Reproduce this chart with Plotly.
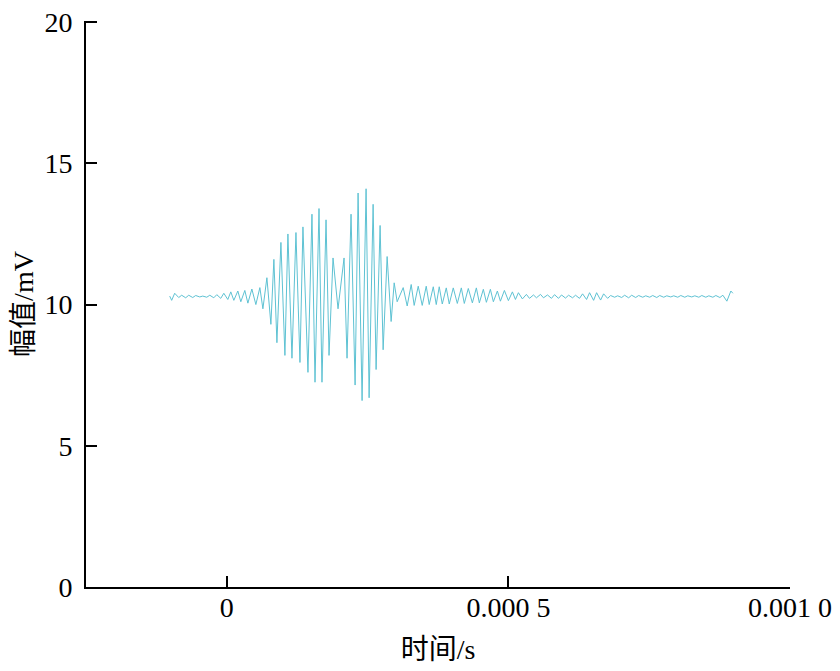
import numpy as np
import plotly.graph_objects as go

# Waveform.
# time in microseconds, amplitude in mV
T_US = [
    -101.4, -97.9, -92.5, -85.4, -80.1, -73.0, -67.6, -60.5, -55.2, -48.0,
    -42.7, -35.6, -30.2, -23.1, -17.8, -10.7, -5.3, 1.8, 7.1, 12.5,
    19.6, 24.9, 32.0, 37.4, 44.5, 51.6,
    # burst
    58.7, 64.1, 71.2, 78.3, 83.6, 89.0, 96.1, 103.2, 108.5, 115.7,
    122.8, 129.9, 135.2, 144.1, 151.2, 156.6, 163.7, 169.0, 176.2, 181.5,
    188.6, 197.5, 208.2, 213.5, 220.6, 227.8, 233.1, 240.2, 247.3, 252.7,
    259.8, 265.1, 272.2, 277.6, 284.7, 291.8, 297.2, 302.5,
    # decay
    313.2, 320.3, 327.4, 332.7, 339.9, 347.0, 354.1, 359.4, 366.6, 371.9,
    377.2, 382.6, 389.7, 395.0, 402.1, 409.3, 416.4, 421.7, 428.8, 436.0,
    443.1, 448.4, 455.5, 460.9, 468.0, 473.3, 480.4, 485.8, 492.9, 500.0,
    507.1, 512.5, 517.8, 524.9, 532.0, 537.4, 544.5, 549.8, 557.0, 562.3,
    569.4,
    # tail
    576.5, 581.9, 589.0, 594.3, 601.4, 606.8, 613.9, 619.2, 626.3, 631.7,
    638.8, 644.1, 651.3, 656.6, 663.7, 669.1, 676.2, 681.5, 688.6, 694.0,
    701.1, 706.4, 713.5, 718.9, 726.0, 731.3, 738.5, 743.8, 750.9, 756.2,
    763.4, 768.7, 775.8, 781.2, 788.3, 793.6, 800.7, 806.1, 813.2, 818.5,
    825.6, 831.0, 838.1, 843.4, 850.5, 855.9, 863.0, 868.3, 875.5, 880.8,
    887.9, 895.0, 898.6,
]

AMP_MV = [
    10.30, 10.15, 10.40, 10.25, 10.33, 10.24, 10.33, 10.25, 10.32, 10.27,
    10.30, 10.26, 10.33, 10.24, 10.35, 10.22, 10.40, 10.18, 10.45, 10.15,
    10.48, 10.10, 10.50, 10.05, 10.55, 10.00,
    # burst
    10.60, 9.85, 10.95, 9.30, 11.60, 8.65, 12.20, 8.20, 12.50, 8.10,
    12.55, 7.95, 12.75, 7.60, 13.20, 7.25, 13.40, 7.25, 13.00, 8.20,
    11.65, 9.85, 11.65, 8.10, 13.20, 7.15, 13.95, 6.60, 14.10, 6.70,
    13.55, 7.70, 12.80, 8.40, 11.70, 9.40, 10.77, 10.10,
    # decay
    10.60, 9.95, 10.71, 9.97, 10.65, 9.97, 10.65, 10.00, 10.63, 10.00,
    10.63, 10.02, 10.59, 10.02, 10.59, 10.04, 10.59, 10.04, 10.57, 10.06,
    10.59, 10.06, 10.54, 10.08, 10.54, 10.10, 10.48, 10.12, 10.50, 10.14,
    10.45, 10.18, 10.42, 10.20, 10.36, 10.22, 10.34, 10.24, 10.36, 10.24,
    10.34,
    # tail
    10.22, 10.35, 10.22, 10.34, 10.23, 10.33, 10.24, 10.33, 10.22, 10.38,
    10.18, 10.42, 10.15, 10.42, 10.16, 10.38, 10.22, 10.32, 10.26, 10.31,
    10.25, 10.33, 10.24, 10.33, 10.25, 10.32, 10.26, 10.31, 10.26, 10.32,
    10.25, 10.32, 10.26, 10.31, 10.27, 10.31, 10.26, 10.32, 10.26, 10.31,
    10.27, 10.31, 10.26, 10.32, 10.26, 10.31, 10.26, 10.32, 10.25, 10.33,
    10.12, 10.48, 10.40,
]

X_TICKS = [0, 0.0005, 0.001]
X_TICK_TEXT = ["0", "0.000 5", "0.001 0"]
Y_TICKS = [0, 5, 10, 15, 20]

FONT = "Liberation Serif, Noto Sans CJK SC, serif"

t = np.array(T_US) * 1e-6

fig = go.Figure()
fig.add_trace(go.Scatter(
    x=t, y=AMP_MV, mode="lines",
    line=dict(color="#5ec2d3", width=1), showlegend=False,
))

axis_common = dict(
    showline=True, linecolor="black", linewidth=2,
    ticks="inside", ticklen=11, tickwidth=2, tickcolor="black",
    showgrid=False, zeroline=False, automargin=False,
    ticklabeloverflow="allow",
    tickfont=dict(family=FONT, size=28, color="black"),
)

# the page body adds ~8 px offset, so margins are shifted to compensate
fig.update_layout(
    width=840, height=671,
    paper_bgcolor="white", plot_bgcolor="white",
    margin=dict(l=78, r=58, t=13, b=92),
    font=dict(family=FONT, size=28, color="black"),
    xaxis=dict(
        range=[-0.00025, 0.001], tickvals=X_TICKS, ticktext=X_TICK_TEXT,
        title=dict(text="时间/s", font=dict(family=FONT, size=28), standoff=18),
        ticklabelstandoff=-6,
        **axis_common,
    ),
    yaxis=dict(
        range=[0, 20.04], tickvals=Y_TICKS,
        title=dict(text="幅值/mV", font=dict(family=FONT, size=28), standoff=14),
        ticklabelstandoff=6,
        **axis_common,
    ),
)

fig.write_html("out.html")
